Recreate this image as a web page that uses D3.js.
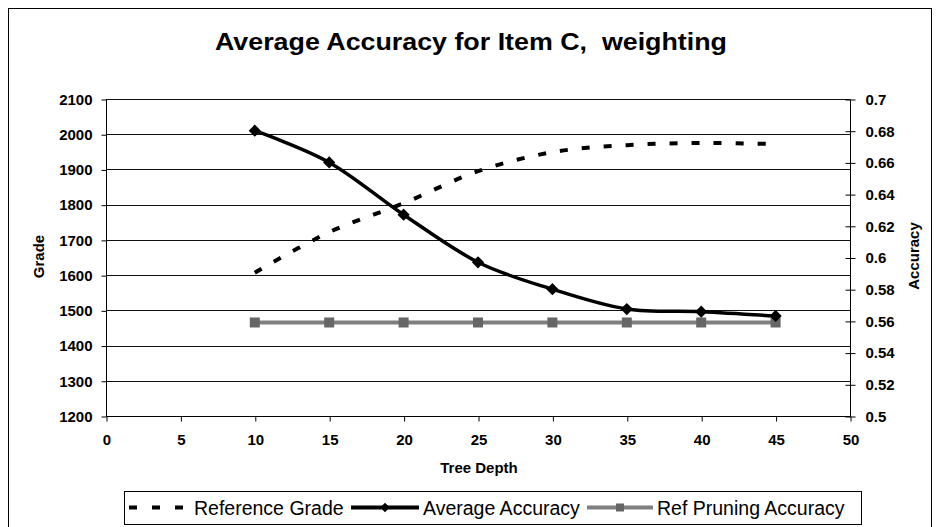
<!DOCTYPE html>
<html>
<head>
<meta charset="utf-8">
<script src="https://cdn.jsdelivr.net/npm/d3@7"></script>
<style>
  body { margin: 0; background: #fff; }
  svg { display: block; font-family: "Liberation Sans", Arial, sans-serif; }
</style>
</head>
<body>
<div id="chart"></div>
<script>
// Data
const depths = [10, 15, 20, 25, 30, 35, 40, 45];
const referenceGrade = [1607, 1722, 1804, 1895, 1949, 1969, 1975, 1972];
const averageAccuracy = [0.680, 0.660, 0.627, 0.597, 0.580, 0.5675, 0.5658, 0.5631];
const refPruningAccuracy = [0.559, 0.559, 0.559, 0.559, 0.559, 0.559, 0.559, 0.559];

const xTicks = [0, 5, 10, 15, 20, 25, 30, 35, 40, 45, 50];
const gradeTicks = [1200, 1300, 1400, 1500, 1600, 1700, 1800, 1900, 2000, 2100];
const accTicks = [0.5, 0.52, 0.54, 0.56, 0.58, 0.6, 0.62, 0.64, 0.66, 0.68, 0.7];

const width = 940, height = 527;
const plot = { left: 106, right: 850, top: 99, bottom: 416 };

const svg = d3.select("#chart")
    .append("svg")
    .attr("width", width)
    .attr("height", height);

// outer chart border
svg.append("rect")
    .attr("x", 8.5).attr("y", 8.5)
    .attr("width", 923).attr("height", 530)
    .attr("fill", "#fff")
    .attr("stroke", "#000")
    .attr("stroke-width", 1);

// scales
const x = d3.scaleLinear().domain([0, 50]).range([plot.left, plot.right]);
const yGrade = d3.scaleLinear().domain([1200, 2100]).range([plot.bottom, plot.top]);
const yAcc = d3.scaleLinear().domain([0.5, 0.7]).range([plot.bottom, plot.top]);

// gridlines
svg.append("g")
    .selectAll("line")
    .data(gradeTicks)
    .enter()
    .append("line")
    .attr("x1", plot.left).attr("x2", plot.right)
    .attr("y1", d => Math.round(yGrade(d)) + 0.5)
    .attr("y2", d => Math.round(yGrade(d)) + 0.5)
    .attr("stroke", "#111")
    .attr("stroke-width", 1);

// axes
const leftAxis = svg.append("g")
    .attr("transform", `translate(${plot.left + 0.5}, 0.5)`)
    .call(d3.axisLeft(yGrade).tickValues(gradeTicks).tickSize(5).tickPadding(9).tickFormat(d3.format("d")));

const rightAxis = svg.append("g")
    .attr("transform", `translate(${plot.right + 0.5}, 0.5)`)
    .call(d3.axisRight(yAcc).tickValues(accTicks).tickSize(5).tickPadding(10).tickFormat(d => String(+d.toFixed(2))));
rightAxis.selectAll(".tick line").attr("x1", -5);

const bottomAxis = svg.append("g")
    .attr("transform", `translate(0.5, ${plot.bottom + 0.5})`)
    .call(d3.axisBottom(x).tickValues(xTicks).tickSize(5).tickPadding(13));

[leftAxis, rightAxis, bottomAxis].forEach(g => {
    g.select(".domain").attr("stroke", "#000");
    g.selectAll(".tick line").attr("stroke", "#000");
    g.selectAll(".tick text")
        .style("font-family", "'Liberation Sans', Arial, sans-serif")
        .style("font-size", "15px")
        .style("font-weight", "bold")
        .attr("fill", "#000");
});
// no outer tick stubs from the domain path
leftAxis.select(".domain").attr("d", `M0,${plot.top}V${plot.bottom}`);
rightAxis.select(".domain").attr("d", `M0,${plot.top}V${plot.bottom}`);
bottomAxis.select(".domain").attr("d", `M${plot.left},0H${plot.right}`);

// title
svg.append("text")
    .attr("x", 471).attr("y", 50)
    .attr("text-anchor", "middle")
    .attr("textLength", 512)
    .attr("lengthAdjust", "spacingAndGlyphs")
    .style("font-size", "24px")
    .style("font-weight", "bold")
    .style("white-space", "pre")
    .text("Average Accuracy for Item C,  weighting");

// axis titles
svg.append("text")
    .attr("x", 479).attr("y", 473)
    .attr("text-anchor", "middle")
    .style("font-size", "15px")
    .style("font-weight", "bold")
    .text("Tree Depth");

svg.append("text")
    .attr("transform", "translate(43.5, 256.5) rotate(-90)")
    .attr("text-anchor", "middle")
    .style("font-size", "15px")
    .style("font-weight", "bold")
    .text("Grade");

svg.append("text")
    .attr("transform", "translate(919, 256) rotate(-90)")
    .attr("text-anchor", "middle")
    .style("font-size", "15px")
    .style("font-weight", "bold")
    .text("Accuracy");

// series
const smooth = d3.curveCatmullRom.alpha(0);

const gradeLine = d3.line()
    .x((d, i) => x(depths[i]))
    .y(d => yGrade(d))
    .curve(smooth);

const accLine = d3.line()
    .x((d, i) => x(depths[i]))
    .y(d => yAcc(d))
    .curve(smooth);

svg.append("path")
    .datum(refPruningAccuracy)
    .attr("d", accLine)
    .attr("fill", "none")
    .attr("stroke", "#7f7f7f")
    .attr("stroke-width", 4);

svg.selectAll(".sq")
    .data(refPruningAccuracy)
    .enter()
    .append("rect")
    .attr("class", "sq")
    .attr("x", (d, i) => x(depths[i]) - 5)
    .attr("y", d => yAcc(d) - 5)
    .attr("width", 10).attr("height", 10)
    .attr("fill", "#666");

svg.append("path")
    .datum(referenceGrade)
    .attr("d", gradeLine)
    .attr("fill", "none")
    .attr("stroke", "#000")
    .attr("stroke-width", 4)
    .attr("stroke-dasharray", "8,14");

svg.append("path")
    .datum(averageAccuracy)
    .attr("d", accLine)
    .attr("fill", "none")
    .attr("stroke", "#000")
    .attr("stroke-width", 3.5);

const diamond = d3.symbol().type(d3.symbolSquare).size(75);
svg.selectAll(".dia")
    .data(averageAccuracy)
    .enter()
    .append("path")
    .attr("class", "dia")
    .attr("d", diamond)
    .attr("transform", (d, i) => `translate(${x(depths[i])}, ${yAcc(d)}) rotate(45)`)
    .attr("fill", "#000");

// legend
const legend = svg.append("g");
legend.append("rect")
    .attr("x", 124.5).attr("y", 491.5)
    .attr("width", 737).attr("height", 33)
    .attr("fill", "#fff")
    .attr("stroke", "#000");

const legendItems = [
    { label: "Reference Grade", x0: 129, x1: 190, color: "#000", dash: "8,15", marker: null },
    { label: "Average Accuracy", x0: 351, x1: 419, color: "#000", dash: null, marker: "diamond" },
    { label: "Ref Pruning Accuracy", x0: 587, x1: 653, color: "#7f7f7f", dash: null, marker: "square" }
];
const ly = 507.5;
legendItems.forEach(item => {
    legend.append("line")
        .attr("x1", item.x0).attr("x2", item.x1)
        .attr("y1", ly).attr("y2", ly)
        .attr("stroke", item.color)
        .attr("stroke-width", 4)
        .attr("stroke-dasharray", item.dash);
    const mx = (item.x0 + item.x1) / 2;
    if (item.marker === "diamond") {
        legend.append("path")
            .attr("d", d3.symbol().type(d3.symbolSquare).size(45))
            .attr("transform", `translate(${mx}, ${ly}) rotate(45)`)
            .attr("fill", "#000");
    } else if (item.marker === "square") {
        legend.append("rect")
            .attr("x", mx - 4).attr("y", ly - 4)
            .attr("width", 8).attr("height", 8)
            .attr("fill", "#666");
    }
    legend.append("text")
        .attr("x", item.x1 + 4).attr("y", ly + 7)
        .style("font-size", "19.5px")
        .text(item.label);
});
</script>
</body>
</html>
